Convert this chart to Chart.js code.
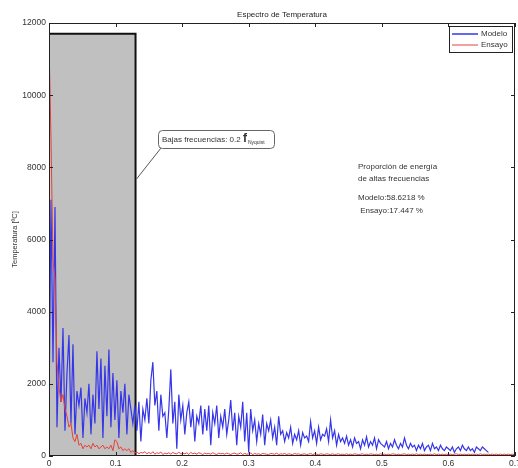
<!DOCTYPE html>
<html><head><meta charset="utf-8">
<script src="https://cdn.jsdelivr.net/npm/chart.js@4.4.1/dist/chart.umd.min.js"></script>
<style>html,body{margin:0;padding:0;background:#fff}#wrap{width:518px;height:468px}</style>
</head><body><div id="wrap"><canvas id="c" width="518" height="468"></canvas></div>
<script>
const chartTitle = "Espectro de Temperatura";
const yAxisLabel = "Temperatura [ºC]";
const seriesNames = ["Modelo", "Ensayo"];
const freqStep = 0.003;
const xTicks = [0, 0.1, 0.2, 0.3, 0.4, 0.5, 0.6, 0.7];
const yTicks = [0, 2000, 4000, 6000, 8000, 10000, 12000];
const lowBandEnd = 0.13;
const lowBandTop = 11700;
const noteLow = ["Bajas frecuencias: 0.2 ", "f", "Nyquist"];
const noteRatio = ["Proporción de energía", "de altas frecuencias", "", "Modelo:58.6218 %", " Ensayo:17.447 %"];

const modelo = [
 1200, 7100, 2600, 6900, 800, 3000, 1500, 3550, 700, 2300,
 3350, 900, 3100, 600, 1800, 1400, 1900, 500, 1600, 1200,
 2000, 600, 1700, 900, 2900, 1300, 2700, 500, 2500, 1100,
 2950, 800, 2300, 1000, 2100, 500, 1800, 1200, 2000, 600,
 1700, 1300, 900, 1400, 700, 1500, 400, 1300, 1000, 1600,
 900, 2100, 2600, 1400, 1800, 700, 1700, 1100, 1200, 500,
 1300, 2400, 900, 1500, 200, 1700, 1000, 1400, 600, 1200,
 1500, 800, 1300, 400, 1100, 900, 1400, 600, 1300, 700,
 1400, 300, 1200, 900, 1400, 500, 1100, 800, 1300, 600,
 1000, 1550, 700, 1200, 300, 1100, 800, 1500, 400, 1200,
 100, 1300, 700, 1000, 400, 900, 600, 1150, 300, 900,
 700, 1000, 500, 800, 300, 1100, 600, 700, 400, 650,
 500, 800, 350, 600, 450, 700, 300, 650, 500, 550,
 400, 950, 500, 700, 350, 800, 450, 600, 550, 750,
 400, 1000, 500, 700, 300, 600, 400, 500, 350, 550,
 300, 450, 250, 500, 350, 400, 200, 450, 300, 530,
 250, 400, 300, 500, 200, 450, 350, 300, 250, 400,
 200, 350, 250, 450, 300, 200, 350, 250, 500, 300,
 200, 350, 250, 300, 150, 300, 200, 350, 150, 250,
 300, 150, 350, 200, 250, 150, 300, 200, 150, 250,
 200, 150, 250, 100, 200, 250, 150, 300, 200, 150,
 250, 150, 200, 100, 250, 200, 150, 250, 200, 150, 100
];
const ensayo = [
 11500, 8800, 5400, 4900, 2600, 1900, 1500, 1700, 1300, 1100,
 800, 900, 500, 400, 600, 300, 350, 200, 300, 250,
 300, 200, 350, 250, 300, 200, 250, 300, 200, 250,
 200, 300, 150, 450, 400, 200, 250, 150, 200, 150,
 200, 100, 150, 80, 120, 60, 100, 80, 120, 60,
 100, 60, 120, 50, 90, 70, 110, 40, 80, 60,
 90, 50, 100, 70, 60, 110, 50, 80, 60, 90,
 40, 100, 60, 80, 50, 90, 70, 40, 80, 60,
 70, 50, 90, 60, 40, 80, 60, 70, 50, 80,
 60, 40, 70, 80, 50, 60, 90, 40, 70, 50,
 60, 80, 40, 70, 50, 60, 40, 70, 60, 50,
 40, 70, 60, 50, 80, 40, 60, 50, 70, 40,
 60, 50, 40, 70, 50, 60, 40, 50, 60, 40,
 50, 70, 40, 60, 50, 40, 60, 50, 40, 60,
 50, 40, 60, 40, 50, 60, 40, 50, 40, 60,
 40, 50, 40, 60, 50, 40, 50, 60, 40, 50,
 40, 60, 50, 40, 50, 40, 60, 40, 50, 40,
 50, 40, 60, 50, 40, 50, 40, 50, 60, 40,
 50, 40, 50, 40, 60, 40, 50, 40, 50, 40,
 40, 50, 40, 60, 40, 50, 40, 50, 40, 50,
 40, 50, 40, 50, 60, 40, 50, 40, 50, 40,
 50, 40, 50, 40, 50, 40, 60, 40, 50, 40,
 50, 40, 50, 40, 50, 40, 50, 40, 50, 40,
 50, 40, 50, 40
];

const toPts = arr => arr.map((v, i) => ({x: +(i * freqStep).toFixed(4), y: v}));
const BLUE = "#3636e8", RED = "#e8403a";
const FONT = "'Liberation Sans', Arial, sans-serif";

const decor = {
  id: "decor",
  afterDatasetsDraw(chart) {
    const {ctx, chartArea: a, scales: {x, y}} = chart;
    ctx.save();
    ctx.strokeStyle = "#222"; ctx.lineWidth = 1;
    ctx.strokeRect(a.left + 0.5, a.top + 0.5, a.right - a.left - 1, a.bottom - a.top - 1);
    ctx.beginPath();
    xTicks.forEach(t => { const px = Math.round(x.getPixelForValue(t)) + 0.5;
      ctx.moveTo(px, a.bottom); ctx.lineTo(px, a.bottom - 4);
      ctx.moveTo(px, a.top); ctx.lineTo(px, a.top + 4); });
    yTicks.forEach(t => { const py = Math.round(y.getPixelForValue(t)) + 0.5;
      ctx.moveTo(a.left, py); ctx.lineTo(a.left + 4, py);
      ctx.moveTo(a.right, py); ctx.lineTo(a.right - 4, py); });
    ctx.stroke();
    ctx.fillStyle = "#222"; ctx.font = "8px " + FONT; ctx.textAlign = "center"; ctx.textBaseline = "middle";
    ctx.fillText(chartTitle, (a.left + a.right) / 2, 15);
    const lx = 449, ly = 26, lw = 63, lh = 26;
    ctx.fillStyle = "#fff"; ctx.fillRect(lx, ly, lw, lh);
    ctx.strokeStyle = "#222"; ctx.lineWidth = 1; ctx.strokeRect(lx + 0.5, ly + 0.5, lw, lh);
    const cols = [BLUE, RED];
    ctx.textAlign = "left"; ctx.font = "8px " + FONT;
    seriesNames.forEach((n, i) => {
      const yy = ly + 8 + i * 11;
      ctx.strokeStyle = cols[i]; ctx.lineWidth = i === 0 ? 1.5 : 1;
      ctx.beginPath(); ctx.moveTo(lx + 3, yy); ctx.lineTo(lx + 29, yy); ctx.stroke();
      ctx.fillStyle = "#333"; ctx.fillText(n, lx + 32, yy);
    });
    const bx = 158, by = 130, bw = 116, bh = 18;
    ctx.strokeStyle = "#555"; ctx.lineWidth = 1;
    ctx.beginPath(); ctx.moveTo(161, by + bh); ctx.lineTo(x.getPixelForValue(lowBandEnd) + 1, 179); ctx.stroke();
    ctx.fillStyle = "#fff"; ctx.strokeStyle = "#666";
    ctx.beginPath(); ctx.roundRect(bx + 0.5, by + 0.5, bw, bh, 4); ctx.fill(); ctx.stroke();
    ctx.fillStyle = "#333"; ctx.font = "8px " + FONT;
    ctx.fillText(noteLow[0], bx + 4, by + 9.5);
    let w0 = ctx.measureText(noteLow[0]).width;
    ctx.font = "bold 12px " + FONT;
    ctx.fillText(noteLow[1], bx + 4 + w0, by + 8.5);
    let w1 = ctx.measureText(noteLow[1]).width;
    ctx.font = "5px " + FONT;
    ctx.fillText(noteLow[2], bx + 5 + w0 + w1, by + 12.5);
    ctx.font = "8px " + FONT; ctx.fillStyle = "#333";
    const ys = [167, 179, 0, 198, 211];
    noteRatio.forEach((s, i) => { if (s) ctx.fillText(s, 358, ys[i]); });
    ctx.restore();
  }
};

new Chart(document.getElementById("c"), {
  type: "line",
  data: { datasets: [
    { label: "band", data: [{x: 0, y: lowBandTop}, {x: lowBandEnd, y: lowBandTop}, {x: lowBandEnd, y: 0}],
      borderColor: "#111", borderWidth: 2, backgroundColor: "#c0c0c0", fill: "origin", pointRadius: 0, order: 3 },
    { label: seriesNames[0], data: toPts(modelo), borderColor: BLUE, borderWidth: 1.2, pointRadius: 0, fill: false, order: 2 },
    { label: seriesNames[1], data: toPts(ensayo), borderColor: RED, borderWidth: 1, pointRadius: 0, fill: false, order: 1 }
  ]},
  options: {
    animation: false, responsive: false, events: [],
    layout: { padding: { top: 23, right: 3, left: 0, bottom: 0 } },
    plugins: { legend: { display: false }, tooltip: { enabled: false }, title: { display: false } },
    scales: {
      x: { type: "linear", min: 0, max: 0.7,
        grid: { display: false, drawTicks: false }, border: { display: false },
        afterBuildTicks: s => { s.ticks = xTicks.map(v => ({value: v})); },
        ticks: { padding: 3, color: "#333", font: { size: 8.5, family: FONT }, maxRotation: 0,
          callback: v => String(v) },
        afterFit: s => { s.height = 12; s.paddingRight = 0; s.paddingLeft = 0; } },
      y: { min: 0, max: 12000,
        grid: { display: false, drawTicks: false }, border: { display: false },
        afterBuildTicks: s => { s.ticks = yTicks.map(v => ({value: v})); },
        ticks: { padding: 3, color: "#333", font: { size: 8.5, family: FONT }, callback: v => String(v) },
        title: { display: true, text: yAxisLabel, color: "#333", font: { size: 7.5, family: FONT }, padding: { top: 10, bottom: 0 } },
        afterFit: s => { s.width = 49; s.paddingTop = 0; s.paddingBottom = 0; } }
    }
  },
  plugins: [decor]
});
</script></body></html>
